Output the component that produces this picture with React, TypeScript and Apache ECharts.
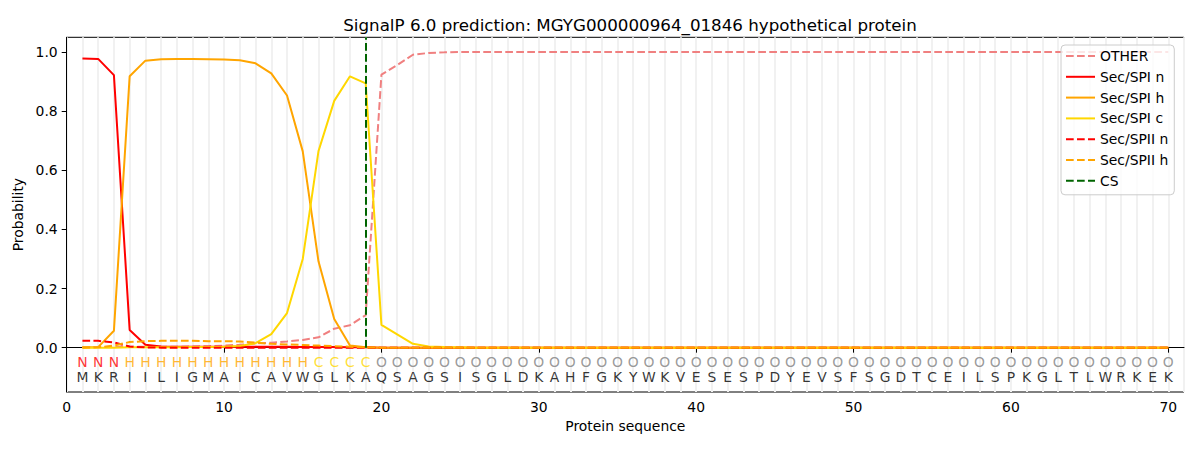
import React, { useEffect, useRef } from "react";
import * as echarts from "echarts";

const TITLE = "SignalP 6.0 prediction: MGYG000000964_01846 hypothetical protein";
const sequence = "MKRIILIGMAICAVWGLKAQSAGSISGLDKAHFGKYWKVESESPDYEVSFSGDTCEILSPKGLTLWRKEK";
const regionLabels = "NNNHHHHHHHHHHHHCCCCOOOOOOOOOOOOOOOOOOOOOOOOOOOOOOOOOOOOOOOOOOOOOOOOOOO";
const csPosition = 19;
const xTicks = [0, 10, 20, 30, 40, 50, 60, 70];
const yTicks = [0, 0.2, 0.4, 0.6, 0.8, 1.0];
const Y_MIN = -0.15;
const Y_MAX = 1.05;

const otherProb = [
  0.002, 0.002, 0.003, 0.003, 0.003, 0.003, 0.003, 0.004, 0.005, 0.007,
  0.010, 0.014, 0.017, 0.021, 0.026, 0.035, 0.064, 0.076, 0.110, 0.924,
  0.956, 0.991, 0.997, 0.999, 1, 1, 1, 1, 1, 1,
  1, 1, 1, 1, 1, 1, 1, 1, 1, 1,
  1, 1, 1, 1, 1, 1, 1, 1, 1, 1,
  1, 1, 1, 1, 1, 1, 1, 1, 1, 1,
  1, 1, 1, 1, 1, 1, 1, 1, 1, 1,
];
const spiN = [
  0.978, 0.977, 0.922, 0.060, 0.010, 0.004, 0.003, 0.003, 0.003, 0.003,
  0.003, 0.003, 0.003, 0.003, 0.002, 0.002, 0.002, 0.001, 0.001, 0,
  0, 0, 0, 0, 0, 0, 0, 0, 0, 0,
  0, 0, 0, 0, 0, 0, 0, 0, 0, 0,
  0, 0, 0, 0, 0, 0, 0, 0, 0, 0,
  0, 0, 0, 0, 0, 0, 0, 0, 0, 0,
  0, 0, 0, 0, 0, 0, 0, 0, 0, 0,
];
const spiH = [
  0.001, 0.002, 0.057, 0.918, 0.971, 0.976, 0.977, 0.977, 0.976, 0.975,
  0.972, 0.962, 0.928, 0.853, 0.664, 0.292, 0.097, 0.007, 0.001, 0,
  0, 0, 0, 0, 0, 0, 0, 0, 0, 0,
  0, 0, 0, 0, 0, 0, 0, 0, 0, 0,
  0, 0, 0, 0, 0, 0, 0, 0, 0, 0,
  0, 0, 0, 0, 0, 0, 0, 0, 0, 0,
  0, 0, 0, 0, 0, 0, 0, 0, 0, 0,
];
const spiC = [
  0, 0, 0, 0.001, 0.001, 0.001, 0.001, 0.002, 0.002, 0.003,
  0.006, 0.015, 0.046, 0.117, 0.300, 0.665, 0.835, 0.918, 0.894, 0.077,
  0.045, 0.013, 0.004, 0.002, 0.001, 0, 0, 0, 0, 0,
  0, 0, 0, 0, 0, 0, 0, 0, 0, 0,
  0, 0, 0, 0, 0, 0, 0, 0, 0, 0,
  0, 0, 0, 0, 0, 0, 0, 0, 0, 0,
  0, 0, 0, 0, 0, 0, 0, 0, 0, 0,
];
const spiiN = [
  0.023, 0.023, 0.018, 0.004, 0.001, 0, 0, 0, 0, 0,
  0, 0, 0, 0, 0, 0, 0, 0, 0, 0,
  0, 0, 0, 0, 0, 0, 0, 0, 0, 0,
  0, 0, 0, 0, 0, 0, 0, 0, 0, 0,
  0, 0, 0, 0, 0, 0, 0, 0, 0, 0,
  0, 0, 0, 0, 0, 0, 0, 0, 0, 0,
  0, 0, 0, 0, 0, 0, 0, 0, 0, 0,
];
const spiiH = [
  0, 0.001, 0.007, 0.019, 0.022, 0.023, 0.023, 0.023, 0.022, 0.022,
  0.021, 0.017, 0.013, 0.011, 0.009, 0.007, 0.005, 0.003, 0.001, 0,
  0, 0, 0, 0, 0, 0, 0, 0, 0, 0,
  0, 0, 0, 0, 0, 0, 0, 0, 0, 0,
  0, 0, 0, 0, 0, 0, 0, 0, 0, 0,
  0, 0, 0, 0, 0, 0, 0, 0, 0, 0,
  0, 0, 0, 0, 0, 0, 0, 0, 0, 0,
];

const FONT = "DejaVu Sans";
const FS = 13.9;
const DASH = [7.7, 3.3];
const labelColors: Record<string, string> = { N: "#ff0000", H: "#ffa500", C: "#ffd700", O: "#808080" };

function lineSeries(name: string, values: number[], color: string, dashed: boolean) {
  return {
    name,
    type: "line",
    data: values.map((v, i) => [i + 1, v]),
    symbol: "none",
    showSymbol: false,
    silent: true,
    lineStyle: { color, width: 2, type: dashed ? DASH : "solid" },
    itemStyle: { color, opacity: 0 },
  };
}

export default function App() {
  const ref = useRef<HTMLDivElement>(null);
  useEffect(() => {
    if (!ref.current) return;
    const chart = echarts.init(ref.current, null, { renderer: "svg" });
    const regionData = regionLabels.split("").map((c, i) => ({
      value: [i + 1, -0.05],
      label: { formatter: c, color: labelColors[c] },
    }));
    const seqData = sequence.split("").map((c, i) => ({
      value: [i + 1, -0.1],
      label: { formatter: c, color: "#000000" },
    }));
    const letterSeries = (name: string, data: any[]) => ({
      name,
      type: "scatter",
      data,
      symbolSize: 0,
      silent: true,
      label: { show: true, position: "inside", fontFamily: FONT, fontSize: FS },
      z: 3,
    });
    chart.setOption({
      animation: false,
      textStyle: { fontFamily: FONT },
      title: {
        text: TITLE,
        left: 625,
        top: 11,
        textAlign: "center",
        textStyle: { fontFamily: FONT, fontSize: 16.7, fontWeight: "normal", color: "#000" },
      },
      grid: {
        left: 66.7,
        right: 16,
        top: 37.3,
        bottom: 58,
        show: true,
        borderColor: "#000",
        borderWidth: 1,
        backgroundColor: "transparent",
      },
      legend: {
        data: ["OTHER", "Sec/SPI n", "Sec/SPI h", "Sec/SPI c", "Sec/SPII n", "Sec/SPII h", "CS"],
        orient: "vertical",
        left: 1061,
        top: 45,
        padding: [3, 6, 6, 4],
        itemWidth: 29,
        itemHeight: 12,
        itemGap: 4.8,
        itemTextGap: 11,
        itemStyle: { opacity: 0 },
        backgroundColor: "rgba(255,255,255,0.8)",
        borderColor: "#cccccc",
        borderWidth: 1,
        borderRadius: 4,
        textStyle: { fontFamily: FONT, fontSize: FS, color: "#000", lineHeight: 16 },
      },
      xAxis: [
        {
          type: "value",
          min: 0,
          max: 71,
          name: "Protein sequence",
          nameLocation: "middle",
          nameGap: 27,
          nameTextStyle: { fontFamily: FONT, fontSize: FS, color: "#000" },
          axisLine: { show: true, lineStyle: { color: "#000", width: 1 } },
          axisTick: { show: true, length: 5, lineStyle: { color: "#000" }, customValues: xTicks },
          axisLabel: { fontFamily: FONT, fontSize: FS, color: "#000", margin: 8, customValues: xTicks },
          splitLine: { show: false },
        },
        {
          type: "value",
          min: 0,
          max: 71,
          interval: 1,
          position: "bottom",
          axisLine: { show: false },
          axisTick: { show: false },
          axisLabel: { show: false },
          splitLine: { show: true, lineStyle: { color: "#f1f1f1", width: 2 } },
        },
      ],
      yAxis: {
        type: "value",
        min: Y_MIN,
        max: Y_MAX,
        name: "Probability",
        nameLocation: "middle",
        nameGap: 32,
        nameTextStyle: { fontFamily: FONT, fontSize: FS, color: "#000" },
        axisLine: { show: true, lineStyle: { color: "#000", width: 1 } },
        axisTick: { show: true, length: 5, lineStyle: { color: "#000" }, customValues: yTicks },
        axisLabel: {
          fontFamily: FONT,
          fontSize: FS,
          color: "#000",
          margin: 9,
          customValues: yTicks,
          formatter: (v: number) => v.toFixed(1),
        },
        splitLine: { show: false },
      },
      series: [
        lineSeries("OTHER", otherProb, "#f08080", true),
        lineSeries("Sec/SPI n", spiN, "#ff0000", false),
        lineSeries("Sec/SPI h", spiH, "#ffa500", false),
        lineSeries("Sec/SPI c", spiC, "#ffd700", false),
        lineSeries("Sec/SPII n", spiiN, "#ff0000", true),
        lineSeries("Sec/SPII h", spiiH, "#ffa500", true),
        {
          name: "CS",
          type: "line",
          data: [],
          symbol: "none",
          lineStyle: { color: "#006400", width: 2, type: DASH },
          itemStyle: { color: "#006400", opacity: 0 },
          markLine: {
            silent: true,
            symbol: "none",
            label: { show: false },
            lineStyle: { color: "#006400", width: 2, type: DASH },
            data: [[{ coord: [csPosition, 0] }, { coord: [csPosition, Y_MAX] }]],
          },
        },
        letterSeries("regions", regionData),
        letterSeries("residues", seqData),
      ],
    });
    return () => chart.dispose();
  }, []);
  return <div ref={ref} style={{ position: "absolute", left: 0, top: 0, width: 1200, height: 450 }} />;
}
